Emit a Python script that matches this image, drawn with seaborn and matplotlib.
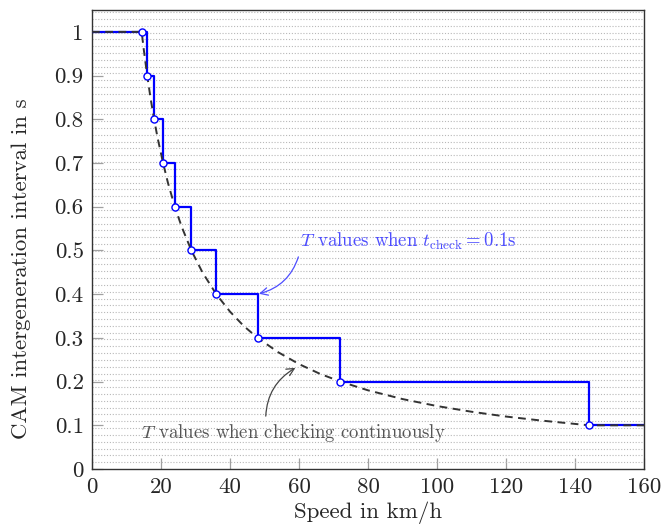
import matplotlib
matplotlib.use("Agg")
import matplotlib.pyplot as plt
from matplotlib.ticker import MultipleLocator, FixedLocator
import seaborn as sns
import pandas as pd

# ---- data ----
step_speed = [0, 16, 18, 20.57, 24, 28.8, 36, 48, 72, 144, 160]
step_T = [1.0, 0.9, 0.8, 0.7, 0.6, 0.5, 0.4, 0.3, 0.2, 0.1, 0.1]

marker_speed = [14.4, 16, 18, 20.57, 24, 28.8, 36, 48, 72, 144]
marker_T = [1.0, 0.9, 0.8, 0.7, 0.6, 0.5, 0.4, 0.3, 0.2, 0.1]

curve_speed = [0, 14.4, 15, 16, 17, 18, 19, 20.6, 22, 24, 26, 28.8, 32, 36, 40,
               44, 48, 54, 60, 66, 72, 80, 90, 100, 110, 120, 130, 144, 160]
curve_T = [1.0, 1.0, 0.96, 0.9, 0.847, 0.8, 0.758, 0.7, 0.655, 0.6, 0.554, 0.5,
           0.45, 0.4, 0.36, 0.327, 0.3, 0.267, 0.24, 0.218, 0.2, 0.18, 0.16,
           0.144, 0.131, 0.12, 0.111, 0.1, 0.1]

x_ticks = [0, 20, 40, 60, 80, 100, 120, 140, 160]
y_ticks = [0, 0.1, 0.2, 0.3, 0.4, 0.5, 0.6, 0.7, 0.8, 0.9, 1.0]
y_tick_labels = ["0", "0.1", "0.2", "0.3", "0.4", "0.5", "0.6", "0.7", "0.8", "0.9", "1"]

x_label = "Speed in km/h"
y_label = "CAM intergeneration interval in s"
note_step = r"$T$ values when $t_{\rm check} = 0.1$s"
note_curve = r"$T$ values when checking continuously"

# ---- style ----
sns.set_theme(style="white")
plt.rcParams["font.family"] = ["cmr10", "DejaVu Serif"]
plt.rcParams["mathtext.fontset"] = "cm"
plt.rcParams["axes.formatter.use_mathtext"] = True
plt.rcParams["axes.unicode_minus"] = False

fig = plt.figure(figsize=(6.65, 5.26), dpi=100)
ax = fig.add_axes([92 / 665, 1 - 469 / 526, (644 - 92) / 665, (469 - 10) / 526])

df_step = pd.DataFrame({"speed": step_speed, "T": step_T})
df_curve = pd.DataFrame({"speed": curve_speed, "T": curve_T})
df_mark = pd.DataFrame({"speed": marker_speed, "T": marker_T})

sns.lineplot(data=df_step, x="speed", y="T", ax=ax, color="#0000ff",
             linewidth=1.6, drawstyle="steps-post", estimator=None, sort=False, zorder=3)
sns.lineplot(data=df_curve, x="speed", y="T", ax=ax, color="#333333",
             linewidth=1.4, estimator=None, sort=False, zorder=4)
ax.lines[-1].set_dashes((4, 2.8))
sns.scatterplot(data=df_mark, x="speed", y="T", ax=ax, marker="o", s=26,
                facecolor="white", edgecolor="#0000ff", linewidth=1.0, zorder=5)

ax.set_xlim(0, 160)
ax.set_ylim(0, 1.05)
ax.xaxis.set_major_locator(FixedLocator(x_ticks))
ax.yaxis.set_major_locator(FixedLocator(y_ticks))
ax.set_yticklabels(y_tick_labels)
ax.set_xticklabels([str(v) for v in x_ticks])
ax.yaxis.set_minor_locator(MultipleLocator(0.0156))
ax.grid(False)
ax.grid(which="minor", axis="y", color="#b8b8b8", linewidth=0.8,
        linestyle=(0, (1, 1.6)), zorder=0)
ax.tick_params(which="major", direction="in", length=8, width=0.9,
               color="#a0a0a0", labelsize=16.5, pad=6,
               left=True, bottom=True, top=False, right=False)
ax.tick_params(which="minor", length=0)
for s in ax.spines.values():
    s.set_color("#333333")
    s.set_linewidth(1.0)

ax.set_xlabel(x_label, fontsize=16.5, labelpad=3.5)
ax.set_ylabel(y_label, fontsize=16.5)
ax.yaxis.set_label_coords(-0.111, 0.436)

ax.annotate(note_step, xy=(48, 0.4), xytext=(60.2, 0.52),
            color="#4d4dff", fontsize=13.5, ha="left", va="center",
            arrowprops=dict(arrowstyle="->", color="#4d4dff", lw=0.9,
                            connectionstyle="arc3,rad=-0.3",
                            relpos=(0.0, 0.0), shrinkA=1, shrinkB=1))
ax.annotate(note_curve, xy=(59.3, 0.233), xytext=(58.3, 0.082),
            color="#555555", fontsize=13.5, ha="center", va="center",
            arrowprops=dict(arrowstyle="->", color="#444444", lw=0.9,
                            connectionstyle="arc3,rad=-0.3",
                            relpos=(0.41, 1.0), shrinkA=2, shrinkB=1))

fig.savefig("out.png", dpi=100)
